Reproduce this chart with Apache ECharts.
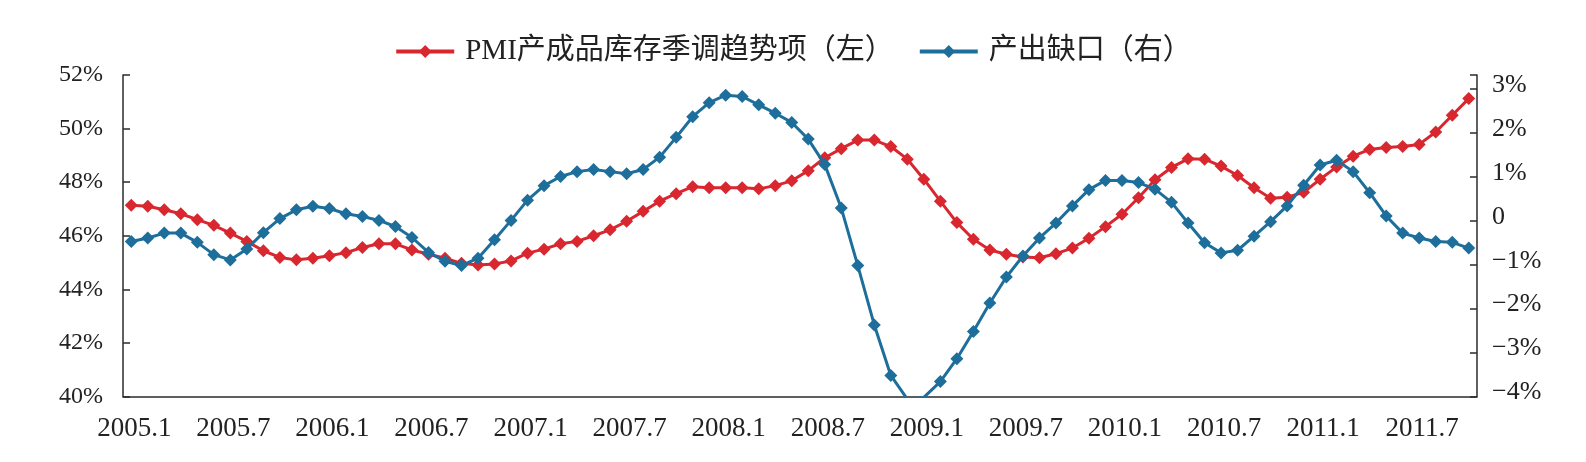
<!DOCTYPE html>
<html>
<head>
<meta charset="utf-8">
<script src="https://cdn.jsdelivr.net/npm/echarts@6/dist/echarts.min.js"></script>
<style>
html,body{margin:0;padding:0;background:#fff;}
#chart{width:1586px;height:462px;}
</style>
</head>
<body>
<div id="chart"></div>
<script>
var categories = [
'2005.1','2005.2','2005.3','2005.4','2005.5','2005.6','2005.7','2005.8','2005.9','2005.10','2005.11','2005.12',
'2006.1','2006.2','2006.3','2006.4','2006.5','2006.6','2006.7','2006.8','2006.9','2006.10','2006.11','2006.12',
'2007.1','2007.2','2007.3','2007.4','2007.5','2007.6','2007.7','2007.8','2007.9','2007.10','2007.11','2007.12',
'2008.1','2008.2','2008.3','2008.4','2008.5','2008.6','2008.7','2008.8','2008.9','2008.10','2008.11','2008.12',
'2009.1','2009.2','2009.3','2009.4','2009.5','2009.6','2009.7','2009.8','2009.9','2009.10','2009.11','2009.12',
'2010.1','2010.2','2010.3','2010.4','2010.5','2010.6','2010.7','2010.8','2010.9','2010.10','2010.11','2010.12',
'2011.1','2011.2','2011.3','2011.4','2011.5','2011.6','2011.7','2011.8','2011.9','2011.10'
];

var pmiInventory = [
47.14,47.10,46.97,46.82,46.60,46.39,46.10,45.79,45.44,45.19,45.10,45.16,
45.25,45.37,45.56,45.70,45.70,45.47,45.31,45.16,44.97,44.91,44.95,45.06,
45.35,45.50,45.70,45.79,46.00,46.22,46.54,46.91,47.29,47.57,47.83,47.79,
47.79,47.79,47.75,47.87,48.05,48.43,48.91,49.25,49.57,49.57,49.33,48.86,
48.11,47.29,46.49,45.87,45.47,45.31,45.21,45.18,45.33,45.54,45.91,46.34,
46.80,47.42,48.09,48.55,48.87,48.86,48.60,48.25,47.79,47.40,47.44,47.62,
48.11,48.57,48.97,49.22,49.29,49.33,49.41,49.87,50.50,51.12
];

var outputGap = [
-0.47,-0.39,-0.28,-0.28,-0.49,-0.77,-0.89,-0.64,-0.27,0.05,0.25,0.33,
0.28,0.16,0.10,0.01,-0.13,-0.38,-0.72,-0.92,-1.02,-0.85,-0.43,0.01,
0.47,0.80,1.01,1.12,1.17,1.12,1.07,1.17,1.45,1.90,2.37,2.69,
2.86,2.83,2.64,2.45,2.24,1.86,1.28,0.29,-1.02,-2.37,-3.52,-4.06,
-4.02,-3.66,-3.14,-2.52,-1.87,-1.28,-0.80,-0.39,-0.05,0.34,0.71,0.92,
0.92,0.87,0.72,0.42,-0.05,-0.50,-0.73,-0.67,-0.35,-0.02,0.34,0.81,
1.27,1.38,1.12,0.64,0.11,-0.28,-0.39,-0.47,-0.49,-0.62
];

var seriesNames = ['PMI产成品库存季调趋势项（左）', '产出缺口（右）'];
var leftTicks = {min: 40, max: 52, interval: 2};
var rightTicks = {min: -4, max: 3.32, interval: 1};

var FONT = '"Liberation Serif", "Times New Roman", "Noto Sans CJK SC", serif';
var RED = '#d8272e';
var BLUE = '#1e6e9c';
var AXIS = '#2b2b2b';

var chart = echarts.init(document.getElementById('chart'), null, {renderer: 'canvas'});
chart.setOption({
  backgroundColor: '#ffffff',
  animation: false,
  legend: {
    top: 32,
    left: 'center',
    itemWidth: 58,
    itemHeight: 16,
    itemGap: 24,
    lineStyle: {width: 4},
    textStyle: {fontFamily: FONT, fontSize: 29, color: '#222', padding: [0, 0, 0, 6]},
    data: seriesNames
  },
  grid: {left: 123, right: 109, top: 75, bottom: 65.5, containLabel: false},
  xAxis: {
    type: 'category',
    data: categories,
    boundaryGap: true,
    axisLine: {onZero: false, lineStyle: {color: AXIS, width: 1.5}},
    axisTick: {inside: true, length: 7, interval: 5, lineStyle: {color: AXIS, width: 1.5}},
    axisLabel: {interval: 5, margin: 19, fontFamily: FONT, fontSize: 27, color: '#222', padding: [0, 0, 0, 6]},
    splitLine: {show: false}
  },
  yAxis: [
    {
      type: 'value',
      position: 'left',
      min: leftTicks.min, max: leftTicks.max, interval: leftTicks.interval,
      axisLine: {show: true, onZero: false, lineStyle: {color: AXIS, width: 1.5}},
      axisTick: {show: true, inside: true, length: 7, lineStyle: {color: AXIS, width: 1.5}},
      axisLabel: {margin: 20, fontFamily: FONT, fontSize: 24, color: '#222',
        formatter: function (v) { return v + '%'; }},
      splitLine: {show: false}
    },
    {
      type: 'value',
      position: 'right',
      min: rightTicks.min, max: rightTicks.max, interval: rightTicks.interval,
      axisLine: {show: true, onZero: false, lineStyle: {color: AXIS, width: 1.5}},
      axisTick: {show: true, inside: true, length: 7, lineStyle: {color: AXIS, width: 1.5}},
      axisLabel: {margin: 15, fontFamily: FONT, fontSize: 26, color: '#222',
        verticalAlign: 'bottom', lineHeight: 8,
        formatter: function (v) {
          if (Math.abs(v - Math.round(v)) > 1e-6) return '';
          if (v === 0) return '0';
          return (v < 0 ? '\u2212' + Math.abs(v) : v) + '%';
        }},
      splitLine: {show: false}
    }
  ],
  series: [
    {
      name: seriesNames[0],
      type: 'line',
      yAxisIndex: 0,
      data: pmiInventory,
      symbol: 'diamond',
      symbolSize: 13,
      showAllSymbol: true,
      lineStyle: {color: RED, width: 3},
      itemStyle: {color: RED},
      clip: true,
      z: 2
    },
    {
      name: seriesNames[1],
      type: 'line',
      yAxisIndex: 1,
      data: outputGap,
      symbol: 'diamond',
      symbolSize: 13,
      showAllSymbol: true,
      lineStyle: {color: BLUE, width: 3},
      itemStyle: {color: BLUE},
      clip: true,
      z: 3
    }
  ]
});
</script>
</body>
</html>
